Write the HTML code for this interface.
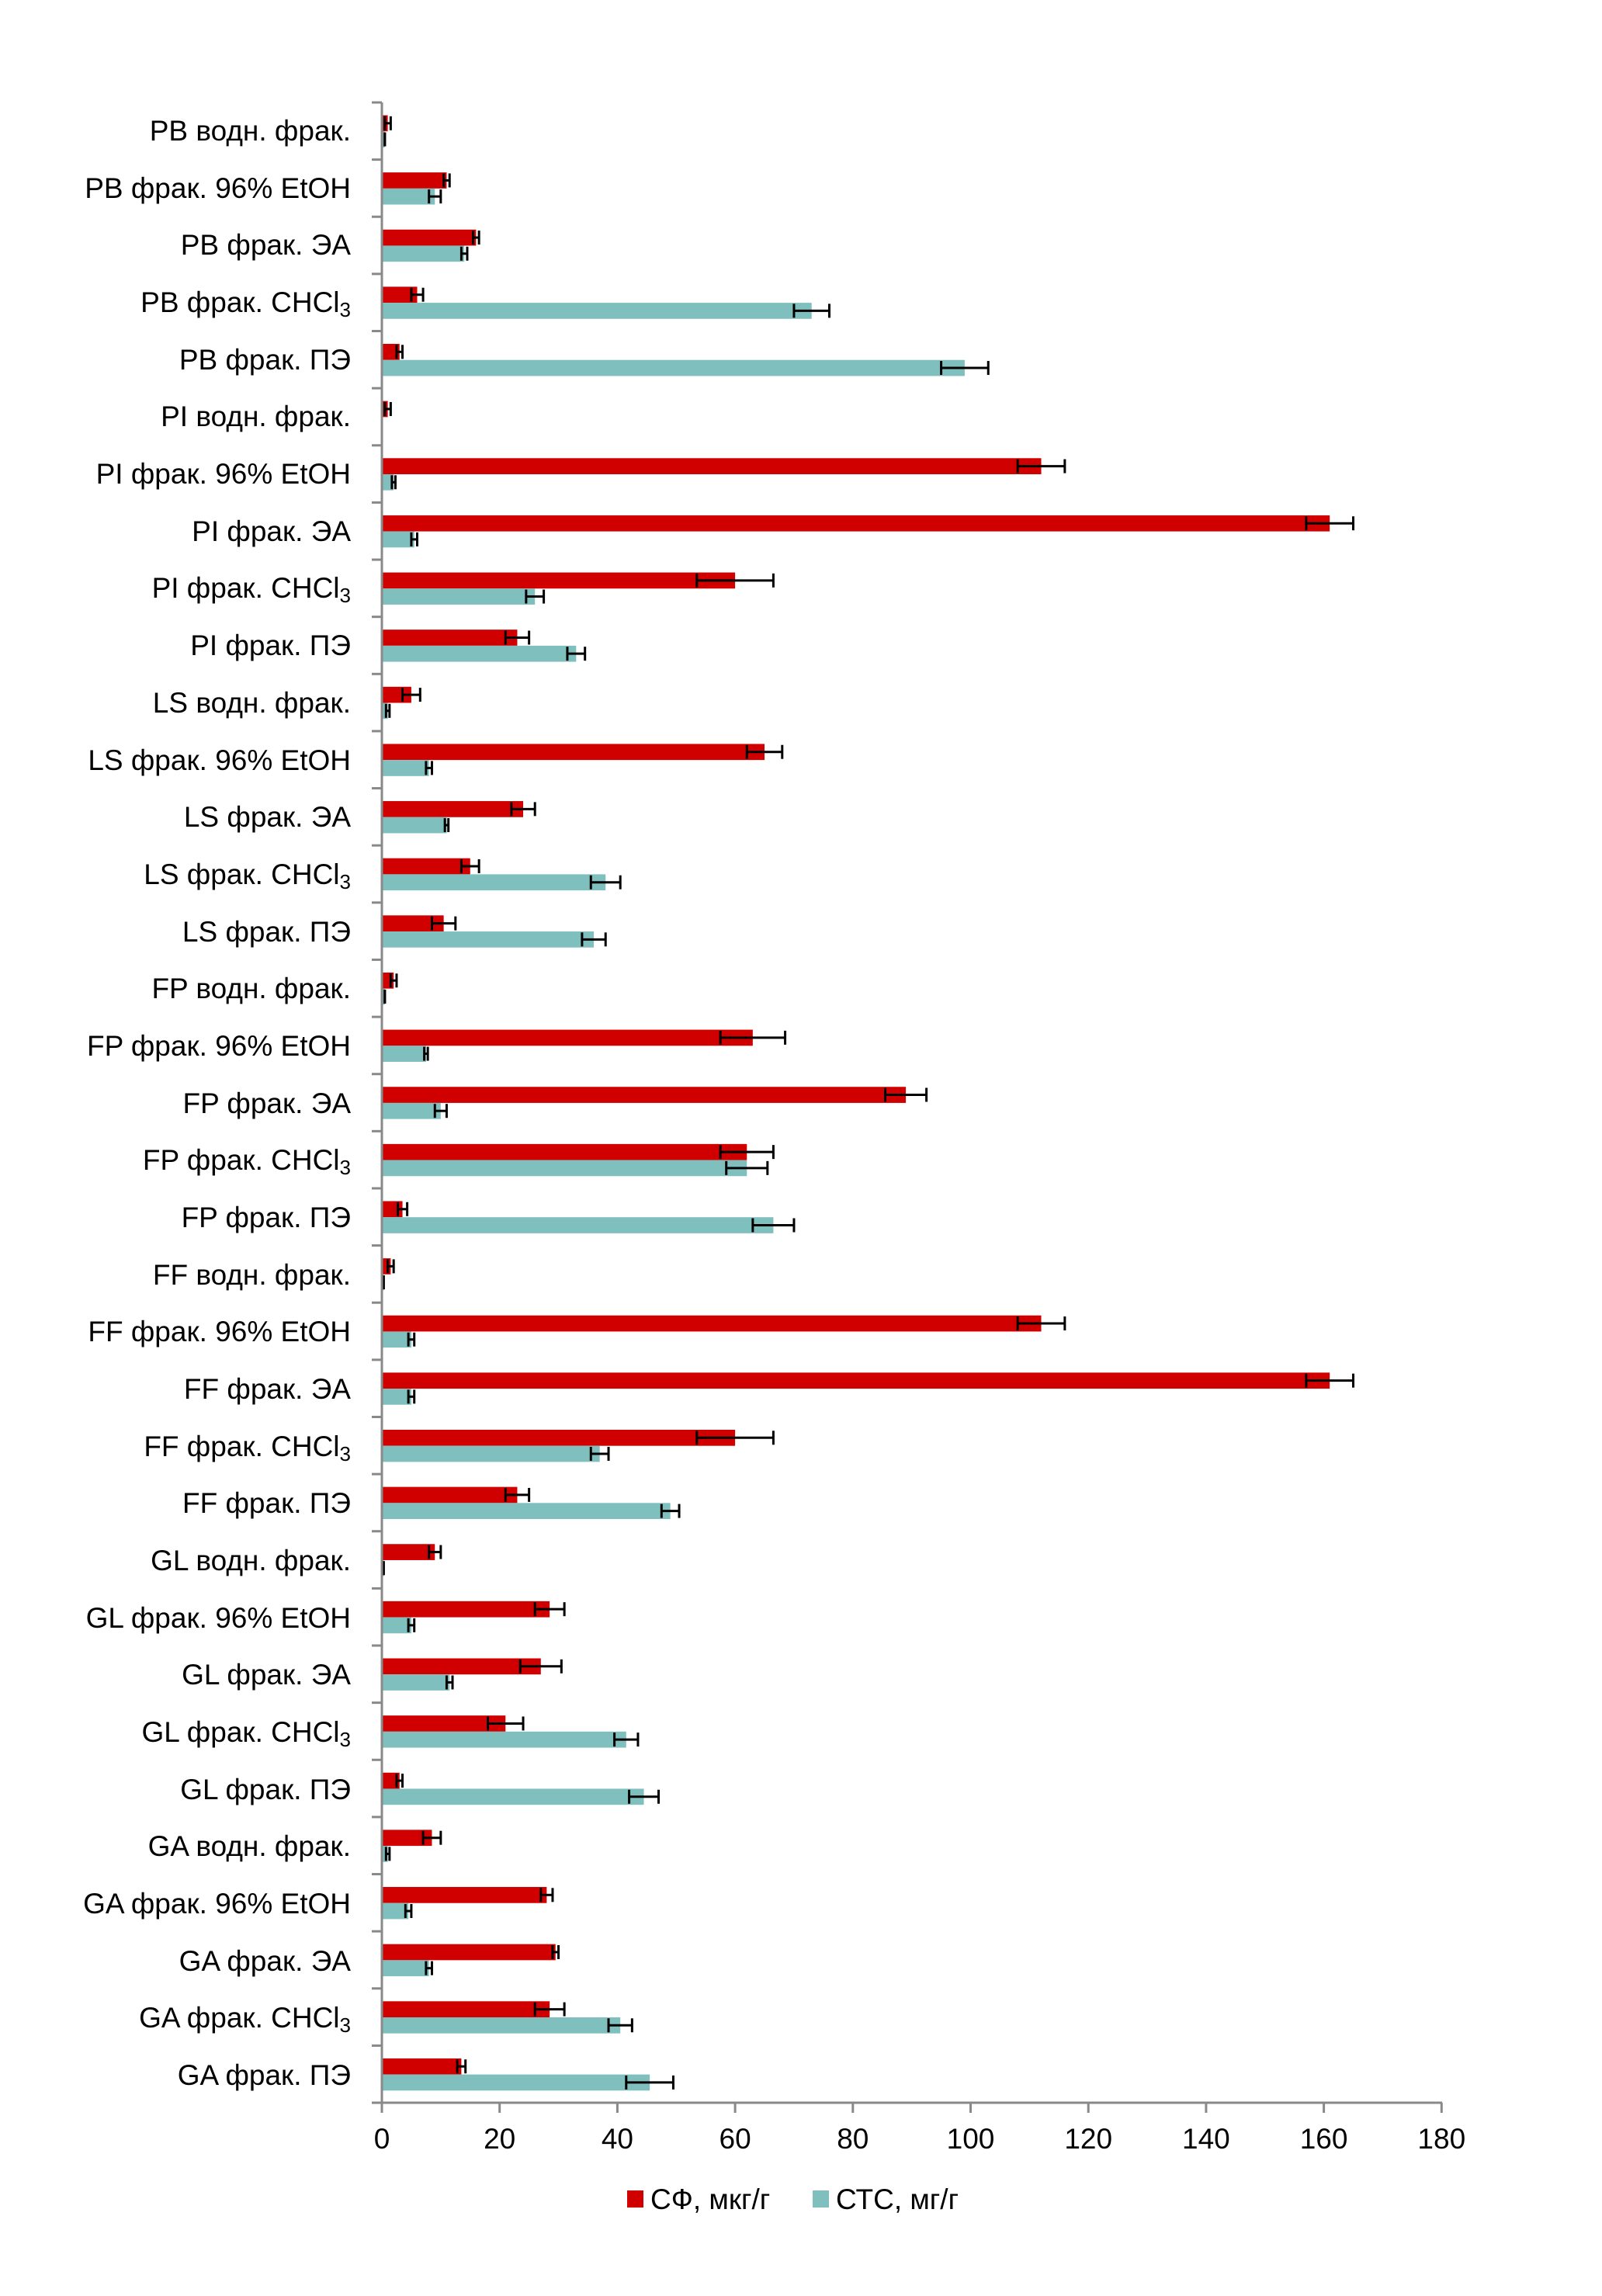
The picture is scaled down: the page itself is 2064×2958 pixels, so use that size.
<!DOCTYPE html>
<html><head><meta charset="utf-8"><style>
html,body{margin:0;padding:0;background:#fff;}
svg{display:block;font-family:"Liberation Sans","DejaVu Sans",sans-serif;}
.l{font-size:37px;text-anchor:end;fill:#000;}
.t{font-size:37px;text-anchor:middle;fill:#000;}
</style></head><body>
<svg id="c" width="2064" height="2958" viewBox="0 0 2064 2958" xmlns="http://www.w3.org/2000/svg">
<g id="bars"></g>
<line x1="492" y1="132" x2="492" y2="2709" stroke="#898989" stroke-width="3"/>
<line x1="479" y1="2709" x2="1858" y2="2709" stroke="#898989" stroke-width="3"/>
<g id="ticks" stroke="#898989" stroke-width="3"></g>
<g class="t">
<text x="492" y="2768">0</text><text x="643.7" y="2768">20</text><text x="795.4" y="2768">40</text>
<text x="947.1" y="2768">60</text><text x="1098.8" y="2768">80</text><text x="1250.5" y="2768">100</text>
<text x="1402.2" y="2768">120</text><text x="1553.9" y="2768">140</text><text x="1705.6" y="2768">160</text>
<text x="1857.3" y="2768">180</text>
</g>
<g class="l">
<text x="452" y="181">PB водн. фрак.</text>
<text x="452" y="255">PB фрак. 96% EtOH</text>
<text x="452" y="328">PB фрак. ЭА</text>
<text x="452" y="402">PB фрак. CHCl<tspan font-size="26" dy="6">3</tspan></text>
<text x="452" y="476">PB фрак. ПЭ</text>
<text x="452" y="549">PI водн. фрак.</text>
<text x="452" y="623">PI фрак. 96% EtOH</text>
<text x="452" y="697">PI фрак. ЭА</text>
<text x="452" y="770">PI фрак. CHCl<tspan font-size="26" dy="6">3</tspan></text>
<text x="452" y="844">PI фрак. ПЭ</text>
<text x="452" y="918">LS водн. фрак.</text>
<text x="452" y="992">LS фрак. 96% EtOH</text>
<text x="452" y="1065">LS фрак. ЭА</text>
<text x="452" y="1139">LS фрак. CHCl<tspan font-size="26" dy="6">3</tspan></text>
<text x="452" y="1213">LS фрак. ПЭ</text>
<text x="452" y="1286">FP водн. фрак.</text>
<text x="452" y="1360">FP фрак. 96% EtOH</text>
<text x="452" y="1434">FP фрак. ЭА</text>
<text x="452" y="1507">FP фрак. CHCl<tspan font-size="26" dy="6">3</tspan></text>
<text x="452" y="1581">FP фрак. ПЭ</text>
<text x="452" y="1655">FF водн. фрак.</text>
<text x="452" y="1728">FF фрак. 96% EtOH</text>
<text x="452" y="1802">FF фрак. ЭА</text>
<text x="452" y="1876">FF фрак. CHCl<tspan font-size="26" dy="6">3</tspan></text>
<text x="452" y="1949">FF фрак. ПЭ</text>
<text x="452" y="2023">GL водн. фрак.</text>
<text x="452" y="2097">GL фрак. 96% EtOH</text>
<text x="452" y="2170">GL фрак. ЭА</text>
<text x="452" y="2244">GL фрак. CHCl<tspan font-size="26" dy="6">3</tspan></text>
<text x="452" y="2318">GL фрак. ПЭ</text>
<text x="452" y="2391">GA водн. фрак.</text>
<text x="452" y="2465">GA фрак. 96% EtOH</text>
<text x="452" y="2539">GA фрак. ЭА</text>
<text x="452" y="2612">GA фрак. CHCl<tspan font-size="26" dy="6">3</tspan></text>
<text x="452" y="2686">GA фрак. ПЭ</text>
</g>
<rect x="808" y="2822" width="21" height="22" fill="#d00000"/>
<text x="838" y="2846" style="font-size:37px">СФ, мкг/г</text>
<rect x="1047" y="2822" width="21" height="22" fill="#7fc0bf"/>
<text x="1077" y="2846" style="font-size:37px">СТС, мг/г</text>
</svg>
<script>
var d=[[1,.5,.5,0],[11,.5,9,1],[16,.5,14,.5],[6,1,73,3],[3,.5,99,4],
[1,.5,0,0],[112,4,2,.3],[161,4,5.5,.5],[60,6.5,26,1.5],[23,2,33,1.5],
[5,1.5,1,.3],[65,3,8,.5],[24,2,11,.3],[15,1.5,38,2.5],[10.5,2,36,2],
[2,.5,.5,0],[63,5.5,7.5,.3],[89,3.5,10,1],[62,4.5,62,3.5],[3.5,.8,66.5,3.5],
[1.5,.5,.3,0],[112,4,5,.5],[161,4,5,.5],[60,6.5,37,1.5],[23,2,49,1.5],
[9,1,.3,0],[28.5,2.5,5,.5],[27,3.5,11.5,.5],[21,3,41.5,2],[3,.5,44.5,2.5],
[8.5,1.5,1,.3],[28,1,4.5,.5],[29.5,.5,8,.5],[28.5,2.5,40.5,2],[13.5,.7,45.5,4]];
var X0=492,S=7.585,T=132,H=73.63,ns="http://www.w3.org/2000/svg";
var g=document.getElementById('bars'),tk=document.getElementById('ticks');
function el(p,n,a){var e=document.createElementNS(ns,n);for(var k in a)e.setAttribute(k,a[k]);p.appendChild(e);}
for(var i=0;i<=35;i++){var y=T+H*i;el(tk,'line',{x1:479,x2:492,y1:y,y2:y});}
for(var j=0;j<=9;j++){var x=X0+j*20*S;el(tk,'line',{x1:x,x2:x,y1:2709,y2:2722});}
d.forEach(function(r,i){
 var t=T+H*i;
 [[r[0],r[1],t+16.5,'#d00000'],[r[2],r[3],t+37.2,'#7fc0bf']].forEach(function(b){
  var w=b[0]*S;
  if(w>0)el(g,'rect',{x:X0,y:b[2],width:w,height:20.7,fill:b[3]});
  var xe=X0+w,e=b[1]*S,yc=b[2]+10.3;
  el(g,'line',{x1:xe-e,x2:xe+e,y1:yc,y2:yc,stroke:'#000','stroke-width':3});
  el(g,'line',{x1:xe-e,x2:xe-e,y1:yc-9,y2:yc+9,stroke:'#000','stroke-width':3});
  el(g,'line',{x1:xe+e,x2:xe+e,y1:yc-9,y2:yc+9,stroke:'#000','stroke-width':3});
 });
});
</script>
</body></html>
